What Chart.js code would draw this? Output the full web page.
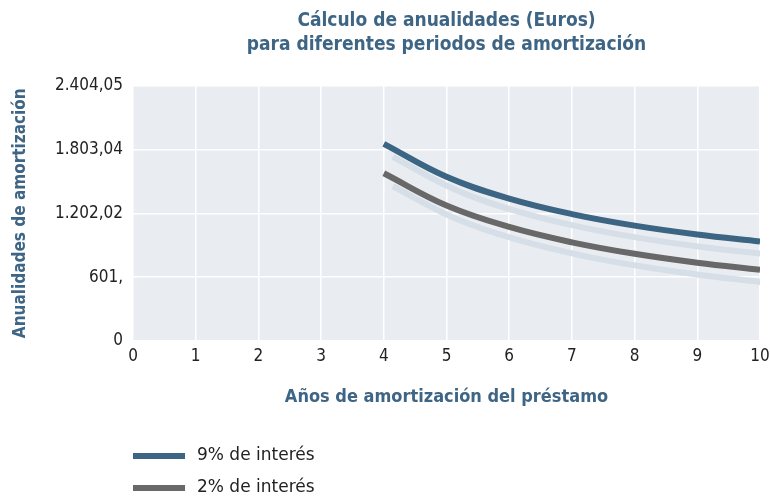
<!DOCTYPE html>
<html>
<head>
<meta charset="utf-8">
<script src="https://cdn.jsdelivr.net/npm/chart.js@4"></script>
<style>
  html, body { margin: 0; padding: 0; background: #fff; }
  #wrap { width: 770px; height: 496px; }
</style>
</head>
<body>
<div id="wrap"><canvas id="chart-anualidades" width="770" height="496"></canvas></div>
<script>
// years of amortisation (x) and yearly payment in euros (y)
const years = [4, 5, 6, 7, 8, 9, 10];
const pago9 = [1855.1, 1545.1, 1339.8, 1194.2, 1085.9, 1002.5, 936.5];
const pago2 = [1578.4, 1275.1, 1073.0, 928.6, 820.4, 736.4, 669.1];
const seriesNames = ["9% de interés", "2% de interés"];

const yTickValues = [0, 601.01, 1202.02, 1803.04, 2404.05];
const yTickLabels = ["0", "601,", "1.202,02", "1.803,04", "2.404,05"];

const AZUL = "#3c6483";
const GRIS = "#686868";
const SOMBRA = "#d6dee7";
const narrow = "'DejaVu Sans Condensed', 'Liberation Sans', Arial, sans-serif";

const ctx = document.getElementById("chart-anualidades");

// plot background
const fondo = {
  id: "fondo",
  beforeDraw(chart) {
    const a = chart.chartArea;
    const c = chart.ctx;
    c.save();
    c.fillStyle = "#e9edf2";
    c.fillRect(a.left, a.top, a.right - a.left, a.bottom - a.top);
    c.restore();
  },
};

// light offset copy under each curve
const sombra = {
  id: "sombra",
  beforeDatasetDraw(chart) {
    const c = chart.ctx;
    c.save();
    c.shadowColor = SOMBRA;
    c.shadowOffsetX = 9;
    c.shadowOffsetY = 13;
    c.shadowBlur = 0;
  },
  afterDatasetDraw(chart) {
    chart.ctx.restore();
  },
};

// stacked legend under the chart
const leyenda = {
  id: "leyenda",
  afterDraw(chart) {
    const c = chart.ctx;
    c.save();
    chart.data.datasets.forEach((ds, i) => {
      const y = 456 + i * 32;
      c.strokeStyle = ds.borderColor;
      c.lineWidth = 6;
      c.beginPath();
      c.moveTo(133, y);
      c.lineTo(185, y);
      c.stroke();
      c.fillStyle = "#222";
      c.font = "17px 'DejaVu Sans', Arial, sans-serif";
      c.textBaseline = "middle";
      c.fillText(ds.label, 197, y);
    });
    c.restore();
  },
};

new Chart(ctx, {
  type: "line",
  data: {
    datasets: [
      {
        label: seriesNames[0],
        data: years.map((x, i) => ({ x: x, y: pago9[i] })),
        borderColor: AZUL,
        backgroundColor: AZUL,
        borderWidth: 6,
        pointRadius: 0,
        tension: 0.4,
      },
      {
        label: seriesNames[1],
        data: years.map((x, i) => ({ x: x, y: pago2[i] })),
        borderColor: GRIS,
        backgroundColor: GRIS,
        borderWidth: 6,
        pointRadius: 0,
        tension: 0.4,
      },
    ],
  },
  options: {
    responsive: false,
    animation: false,
    layout: { padding: { left: 0, right: 0, top: 0, bottom: 80 } },
    scales: {
      x: {
        type: "linear",
        min: 0,
        max: 10,
        ticks: { stepSize: 1, color: "#222", font: { size: 17, family: narrow }, padding: 5 },
        grid: { color: "#ffffff", lineWidth: 1.5, drawTicks: false },
        border: { display: false },
        title: {
          display: true,
          text: "Años de amortización del préstamo",
          color: "#3f6585",
          font: { size: 18, weight: "bold", family: narrow },
          padding: { top: 0, bottom: 8 },
        },
        afterFit: (s) => {
          s.height = 75;
          s.paddingRight = 10;
        },
      },
      y: {
        min: 0,
        max: 2404.05,
        afterBuildTicks: (s) => { s.ticks = yTickValues.map((v) => ({ value: v })); },
        ticks: {
          color: "#222",
          font: { size: 17, family: narrow },
          padding: 10,
          callback: (v, i) => yTickLabels[i],
        },
        grid: { color: "#ffffff", lineWidth: 1.5, drawTicks: false },
        border: { display: false },
        title: {
          display: true,
          text: "Anualidades de amortización",
          color: "#3f6585",
          font: { size: 17, weight: "bold", family: narrow },
          padding: { top: 10, bottom: 0 },
        },
        afterFit: (s) => { s.width = 133; },
      },
    },
    plugins: {
      legend: { display: false },
      tooltip: { enabled: false },
      title: {
        display: true,
        fullSize: false,
        text: ["Cálculo de anualidades (Euros)", "para diferentes periodos de amortización"],
        color: "#3f6585",
        font: { size: 19, weight: "bold", family: narrow, lineHeight: 1.25 },
        padding: { top: 9, bottom: 29 },
      },
    },
  },
  plugins: [fondo, sombra, leyenda],
});
</script>
</body>
</html>
